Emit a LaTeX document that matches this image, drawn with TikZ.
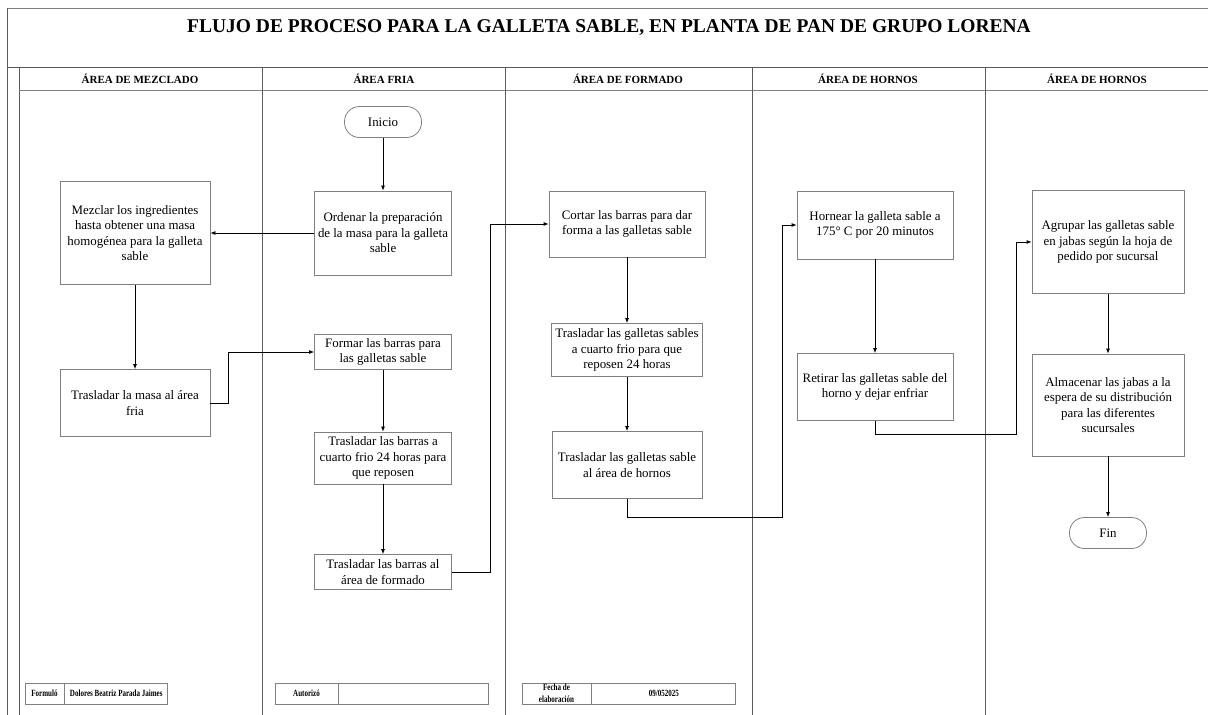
\documentclass[tikz,border=0pt]{standalone}
\usepackage{fontspec}
\setmainfont{Liberation Serif}
\usetikzlibrary{arrows.meta}
\definecolor{boxgray}{RGB}{128,128,128}
\definecolor{framegray}{RGB}{90,90,90}
\newcommand{\cnd}[1]{\scalebox{0.74}[1]{#1}}
\begin{document}
\begin{tikzpicture}[x=1pt,y=-1pt,
  box/.style={draw=boxgray, line width=0.8pt, align=center, inner sep=2pt,
    font=\fontsize{12.9}{15.5}\selectfont},
  term/.style={draw=boxgray, line width=0.8pt, rounded corners=15pt,
    minimum width=77, minimum height=31, font=\fontsize{12.9}{15.5}\selectfont},
  arr/.style={draw=black, line width=0.8pt, -{Latex[length=5pt,width=4pt]}},
  frame/.style={draw=framegray, line width=1pt},
  lightframe/.style={draw=boxgray, line width=1pt},
  hdr/.style={font=\fontsize{11}{13}\selectfont\bfseries},
  cell/.style={draw=boxgray, line width=0.8pt, align=center, inner sep=0pt,
    font=\fontsize{9.5}{12}\selectfont\bfseries}
]
\useasboundingbox (0,0) rectangle (1208,715);
% frame
\draw[lightframe] (7,8) -- (1208,8);
\draw[frame] (7,8) -- (7,715);
\draw[frame] (7,67) -- (1208,67);
\draw[frame] (19,67) -- (19,715);
\draw[lightframe] (19,90) -- (1208,90);
\draw[frame] (262,67) -- (262,715);
\draw[frame] (505,67) -- (505,715);
\draw[frame] (752,67) -- (752,715);
\draw[frame] (985,67) -- (985,715);
% title
\node[font=\fontsize{19.5}{22}\selectfont\bfseries] (title) at (609,28) {FLUJO DE PROCESO PARA LA GALLETA SABLE, EN PLANTA DE PAN DE GRUPO LORENA};
% headers
\node[hdr] (h1) at (140,79) {ÁREA DE MEZCLADO};
\node[hdr] (h2) at (384,79) {ÁREA FRIA};
\node[hdr] (h3) at (628,79) {ÁREA DE FORMADO};
\node[hdr] (h4) at (868,79) {ÁREA DE HORNOS};
\node[hdr] (h5) at (1097,79) {ÁREA DE HORNOS};
% nodes
\node[term] (ini) at (383,122) {Inicio};
\node[box, minimum width=137, minimum height=84] (ord) at (383,233) {Ordenar la preparación\\de la masa para la galleta\\sable};
\node[box, minimum width=150, minimum height=103] (mez) at (135,233) {Mezclar los ingredientes\\hasta obtener una masa\\homogénea para la galleta\\sable};
\node[box, minimum width=150, minimum height=67] (tm) at (135,403) {Trasladar la masa al área\\fria};
\node[box, minimum width=137, minimum height=35] (for) at (383,352) {Formar las barras para\\las galletas sable};
\node[box, minimum width=137, minimum height=52] (tb1) at (383,458) {Trasladar las barras a\\cuarto frio 24 horas para\\que reposen};
\node[box, minimum width=137, minimum height=35] (tb2) at (383,572) {Trasladar las barras al\\área de formado};
\node[box, minimum width=156, minimum height=66] (cor) at (627,224) {Cortar las barras para dar\\forma a las galletas sable};
\node[box, minimum width=151, minimum height=53] (tg1) at (627,350) {Trasladar las galletas sables\\a cuarto frio para que\\reposen 24 horas};
\node[box, minimum width=150, minimum height=67] (tg2) at (627,465) {Trasladar las galletas sable\\al área de hornos};
\node[box, minimum width=156, minimum height=68] (hor) at (875,225) {Hornear la galleta sable a\\175° C por 20 minutos};
\node[box, minimum width=156, minimum height=67] (ret) at (875,387) {Retirar las galletas sable del\\horno y dejar enfriar};
\node[box, minimum width=152, minimum height=103] (agr) at (1108,242) {Agrupar las galletas sable\\en jabas según la hoja de\\pedido por sucursal};
\node[box, minimum width=152, minimum height=102] (alm) at (1108,405) {Almacenar las jabas a la\\espera de su distribución\\para las diferentes\\sucursales};
\node[term] (fin) at (1108,533) {Fin};
% connectors
\coordinate (c1) at (782,517);
\coordinate (c2) at (1016,434);
\draw[arr] (ini) -- (ord);
\draw[arr] (ord.west) -- (mez.east |- ord.west);
\draw[arr] (mez) -- (tm);
\draw[arr] (tm.east) -- ++(18,0) |- (for.west);
\draw[arr] (for) -- (tb1);
\draw[arr] (tb1) -- (tb2);
\draw[arr] (tb2.east) -- ++(38,0) |- (cor.west);
\draw[arr] (cor) -- (tg1);
\draw[arr] (tg1) -- (tg2);
\draw[arr] (tg2.south) |- (c1) |- (hor.west);
\draw[arr] (hor) -- (ret);
\draw[arr] (ret.south) |- (c2) |- (agr.west);
\draw[arr] (agr) -- (alm);
\draw[arr] (alm) -- (fin);
% footer tables
\node[cell, minimum width=39, minimum height=21] (f1a) at (44.5,693.5) {\cnd{Formuló}};
\node[cell, minimum width=103, minimum height=21, anchor=west] (f1b) at (f1a.east) {\cnd{Dolores Beatriz Parada Jaimes}};
\node[cell, minimum width=63, minimum height=21] (f2a) at (306.5,693.5) {\cnd{Autorizó}};
\node[cell, minimum width=150, minimum height=21, anchor=west] (f2b) at (f2a.east) {};
\node[cell, minimum width=69, minimum height=21] (f3a) at (556.5,693.5) {\cnd{Fecha de}\\\cnd{elaboración}};
\node[cell, minimum width=144, minimum height=21, anchor=west] (f3b) at (f3a.east) {\cnd{09/052025}};
\end{tikzpicture}
\end{document}
